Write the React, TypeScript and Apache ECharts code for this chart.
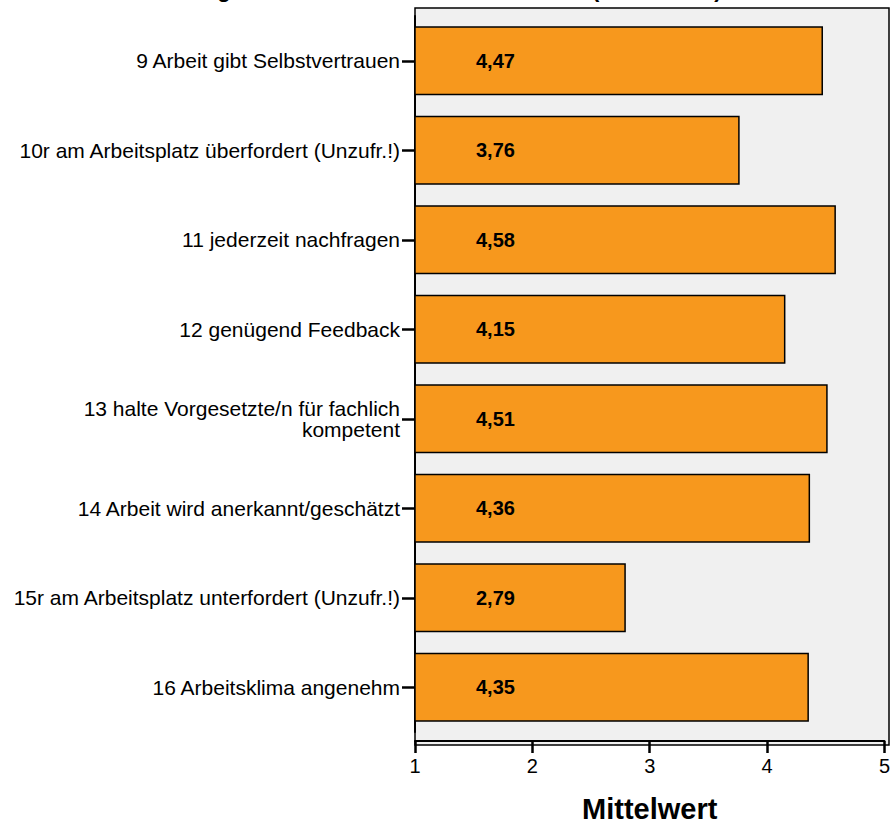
import React, { useEffect, useRef } from "react";
import * as echarts from "echarts";

const categories = [
  "9 Arbeit gibt Selbstvertrauen",
  "10r am Arbeitsplatz überfordert (Unzufr.!)",
  "11 jederzeit nachfragen",
  "12 genügend Feedback",
  "13 halte Vorgesetzte/n für fachlich\nkompetent",
  "14 Arbeit wird anerkannt/geschätzt",
  "15r am Arbeitsplatz unterfordert (Unzufr.!)",
  "16 Arbeitsklima angenehm",
];
const values = [4.47, 3.76, 4.58, 4.15, 4.51, 4.36, 2.79, 4.35];
const axisMin = 1;
const axisMax = 5;
const titleText = "Bewertung der Arbeitssituation im Arbeitsort (Mittelwerte)";
const axisName = "Mittelwert";

const FONT = "Arial, 'Liberation Sans', Helvetica, sans-serif";

export default function App() {
  const ref = useRef<HTMLDivElement>(null);
  useEffect(() => {
    document.body.style.margin = "0";
    document.body.style.overflow = "hidden";
    const chart = echarts.init(ref.current!, null, { renderer: "svg", width: 893, height: 828 });
    chart.setOption({
      animation: false,
      backgroundColor: "#ffffff",
      textStyle: { fontFamily: FONT },
      graphic: [
        {
          type: "text",
          left: 117,
          top: -22,
          z: 10,
          style: {
            text: titleText,
            font: `bold 22px ${FONT}`,
            fill: "#000",
          },
        },
        {
          type: "rect",
          shape: { x: 415, y: 8, width: 474, height: 737 },
          style: { fill: "#f0f0f0", stroke: "#000", lineWidth: 1.5 },
          z: -1,
          silent: true,
        },
      ],
      grid: { left: 415, right: 4, top: 16, bottom: 92, containLabel: false },
      xAxis: {
        type: "value",
        min: axisMin,
        max: axisMax,
        interval: 1,
        offset: 9,
        name: axisName,
        nameLocation: "middle",
        nameGap: 53,
        nameTextStyle: { fontSize: 29, fontWeight: "bold", color: "#000", fontFamily: FONT },
        axisLine: { show: true, lineStyle: { color: "#000", width: 2 } },
        axisTick: { show: true, length: 12, lineStyle: { color: "#000", width: 2.5 } },
        axisLabel: { fontSize: 20, color: "#000", margin: 15, fontFamily: FONT },
        splitLine: { show: false },
      },
      yAxis: {
        type: "category",
        data: categories,
        inverse: true,
        axisLine: { show: true, lineStyle: { color: "#000", width: 2 } },
        axisTick: { show: true, alignWithLabel: true, length: 13, lineStyle: { color: "#000", width: 2.5 } },
        axisLabel: { fontSize: 21, color: "#000", margin: 15, fontFamily: FONT, align: "right", lineHeight: 21 },
        splitLine: { show: false },
      },
      series: [
        {
          type: "custom",
          encode: { x: 0, y: 1 },
          data: values.map((v, i) => [v, i]),
          clip: false,
          renderItem: (params: any, api: any) => {
            const v = api.value(0);
            const idx = api.value(1);
            const start = api.coord([axisMin, idx]);
            const end = api.coord([v, idx]);
            const band = api.size([0, 1])[1];
            const h = band * 0.755;
            return {
              type: "group",
              children: [
                {
                  type: "rect",
                  shape: { x: start[0], y: start[1] - h / 2, width: end[0] - start[0], height: h },
                  style: { fill: "#F7981D", stroke: "#000", lineWidth: 1.5 },
                },
                {
                  type: "text",
                  x: start[0] + 61,
                  y: start[1],
                  style: {
                    text: v.toFixed(2).replace(".", ","),
                    font: `bold 20px ${FONT}`,
                    fill: "#000",
                    verticalAlign: "middle",
                    align: "left",
                  },
                },
              ],
            };
          },
        },
      ],
    });
    return () => chart.dispose();
  }, []);
  return (
    <div
      ref={ref}
      style={{ position: "fixed", left: 0, top: 0, width: 893, height: 828 }}
    />
  );
}
